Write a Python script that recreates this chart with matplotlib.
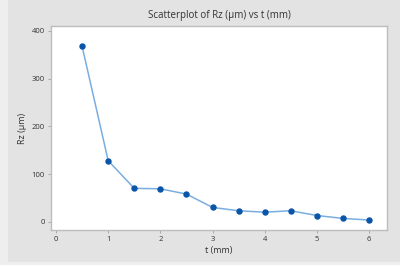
import matplotlib.pyplot as plt
from matplotlib.patches import Rectangle

t_mm = [0.5, 1.0, 1.5, 2.0, 2.5, 3.0, 3.5, 4.0, 4.5, 5.0, 5.5, 6.0]
rz_um = [368, 128, 70, 69, 58, 30, 23, 20, 23, 13, 7, 3.5]
x_ticks = [0, 1, 2, 3, 4, 5, 6]
y_ticks = [0, 100, 200, 300, 400]

plt.rcParams['font.family'] = ['Open Sans', 'DejaVu Sans']

fig = plt.figure(figsize=(4, 2.65), dpi=100)
fig.patch.set_facecolor('#e3e3e3')
# lighter strips at the image edges
fig.patches.append(Rectangle((0, 0), 8 / 400, 1, transform=fig.transFigure,
                             facecolor='#eeeeee', edgecolor='none', zorder=0))
fig.patches.append(Rectangle((0, 0), 1, 3 / 265, transform=fig.transFigure,
                             facecolor='#eeeeee', edgecolor='none', zorder=0))

ax = fig.add_axes([0.1275, 0.132, 0.84, 0.77])
ax.set_facecolor('white')

ax.plot(t_mm, rz_um, color='#7aaee0', linewidth=1.1, zorder=2)
ax.plot(t_mm, rz_um, linestyle='none', marker='o', markersize=3.6,
        color='#0a55a8', zorder=3)

ax.set_xlim(-0.096, 6.345)
ax.set_ylim(-17.4, 410.5)
ax.set_xticks(x_ticks)
ax.set_yticks(y_ticks)

for side in ax.spines.values():
    side.set_color('#bdbdbd')
    side.set_linewidth(1.0)
ax.tick_params(axis='both', length=2.5, width=0.6, color='#a0a0a0',
               labelsize=5.5, labelcolor='#333333', pad=2)

ax.set_title('Scatterplot of Rz (µm) vs t (mm)', fontsize=7, color='#333333', pad=6)
ax.set_xlabel('t (mm)', fontsize=6.5, color='#333333', labelpad=2)
ax.set_ylabel('Rz (µm)', fontsize=6.5, color='#333333')
ax.yaxis.set_label_coords(-0.07, 0.5)

plt.savefig('out.png', dpi=100, facecolor=fig.get_facecolor())
